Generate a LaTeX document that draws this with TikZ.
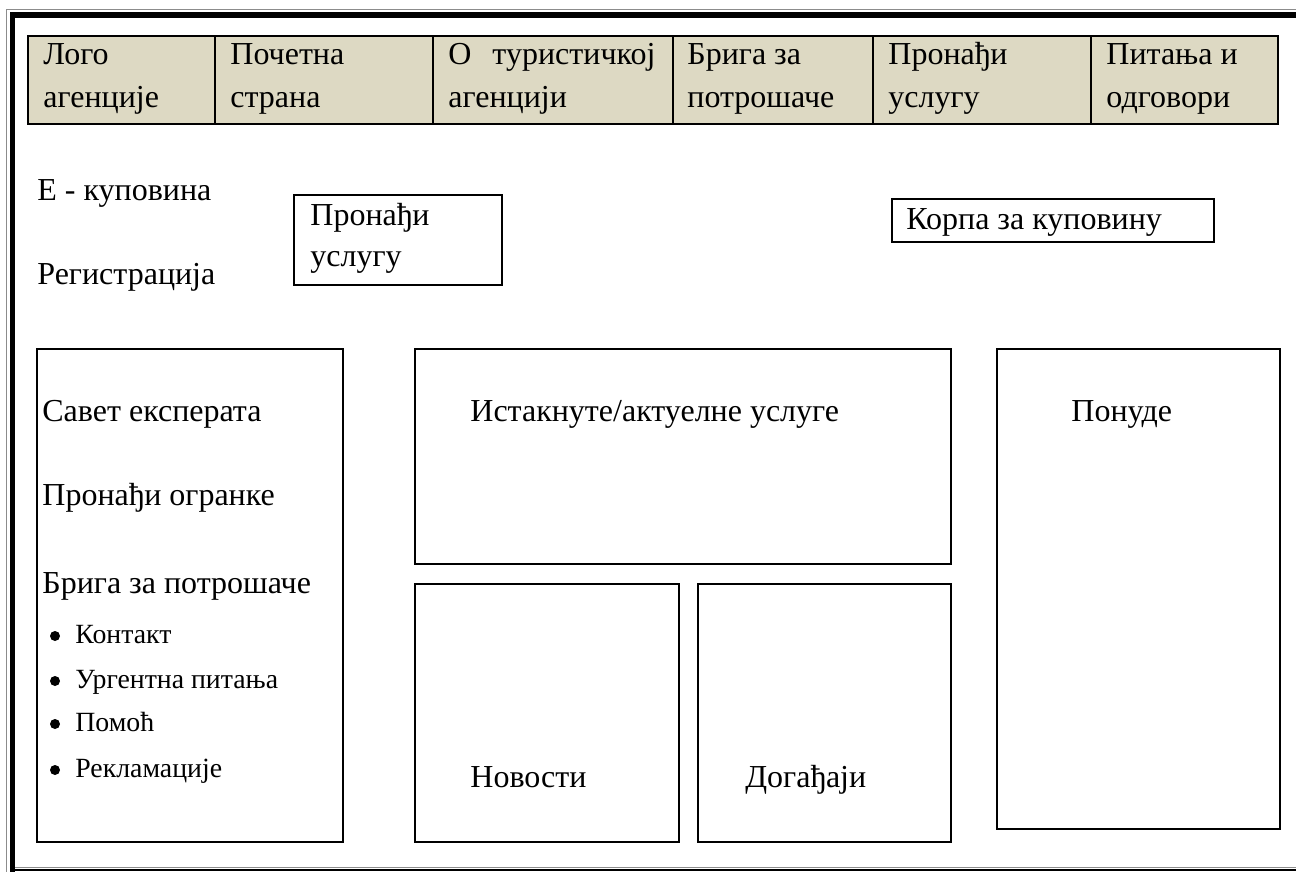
\documentclass[tikz,border=0pt]{standalone}
\usepackage{fontspec}
\setmainfont{Liberation Serif}
\definecolor{headfill}{HTML}{DDD9C3}
\begin{document}
\begin{tikzpicture}[x=0.5pt,y=-0.5pt,
  box/.style={draw=black, line width=1pt},
  cell/.style={draw=black, line width=1pt, fill=headfill},
  txt/.style={anchor=base west, inner sep=0pt, font=\fontsize{16}{19}\selectfont},
  smalltxt/.style={anchor=base west, inner sep=0pt, font=\fontsize{13.9}{16}\selectfont},
  bulletdot/.style={circle, fill=black, inner sep=0pt, minimum size=5pt}
]
\useasboundingbox (0,0) rectangle (1296,872);
\fill[white] (0,0) rectangle (1296,872);

% page border: thin grey rule outside a heavy black rule, thin rule at the foot
\draw[black!45, line width=0.6pt] (6.5,872) -- (6.5,9.5) -- (1296,9.5);
\draw[black, line width=2.6pt, line join=miter] (12.5,872) -- (12.5,15) -- (1296,15);
\draw[black!45, line width=0.6pt] (15,867.5) -- (1296,867.5);
\draw[black, line width=1pt] (10,870) -- (1296,870);

% navigation bar
\draw[cell] (28,36) rectangle (215,124);
\draw[cell] (215,36) rectangle (433,124);
\draw[cell] (433,36) rectangle (673,124);
\draw[cell] (673,36) rectangle (873,124);
\draw[cell] (873,36) rectangle (1091,124);
\draw[cell] (1091,36) rectangle (1278,124);

\node[txt] (nav1a) at (43,65) {Лого};
\node[txt] (nav1b) at (43,108) {агенције};
\node[txt] (nav2a) at (230,65) {Почетна};
\node[txt] (nav2b) at (230,108) {страна};
\node[txt] (nav3a) at (448,65) {\makebox[103.5pt][s]{О туристичкој}};
\node[txt] (nav3b) at (448,108) {агенцији};
\node[txt] (nav4a) at (687,65) {Брига за};
\node[txt] (nav4b) at (687,108) {потрошаче};
\node[txt] (nav5a) at (888,65) {Пронађи};
\node[txt] (nav5b) at (888,108) {услугу};
\node[txt] (nav6a) at (1106,65) {Питања и};
\node[txt] (nav6b) at (1106,108) {одговори};

% upper row
\node[txt] (ebuy) at (37,200) {Е - куповина};
\node[txt] (register) at (37,284) {Регистрација};

\draw[box] (294,195) rectangle (502,285);
\node[txt] (find1) at (310,225) {Пронађи};
\node[txt] (find2) at (310,266) {услугу};

\draw[box] (892,199) rectangle (1214,242);
\node[txt] (cart) at (906,229) {Корпа за куповину};

% left column
\draw[box] (37,349) rectangle (343,842);
\node[txt] (advice) at (42,421) {Савет експерата};
\node[txt] (branches) at (42,505) {Пронађи огранке};
\node[txt] (care) at (42,593) {Брига за потрошаче};

\node[bulletdot] (d1) at (55,636) {};
\node[smalltxt] (b1) at (75,643) {Контакт};
\node[bulletdot] (d2) at (55,681) {};
\node[smalltxt] (b2) at (75,688) {Ургентна питања};
\node[bulletdot] (d3) at (55,724) {};
\node[smalltxt] (b3) at (75,731) {Помоћ};
\node[bulletdot] (d4) at (55,770) {};
\node[smalltxt] (b4) at (75,777) {Рекламације};

% centre column
\draw[box] (415,349) rectangle (951,564);
\node[txt] (featured) at (470,421) {Истакнуте/актуелне услуге};

\draw[box] (415,584) rectangle (679,842);
\node[txt] (news) at (470,787) {Новости};

\draw[box] (698,584) rectangle (951,842);
\node[txt] (events) at (745,787) {Догађаји};

% right column
\draw[box] (997,349) rectangle (1280,829);
\node[txt] (offers) at (1071,421) {Понуде};

\end{tikzpicture}
\end{document}
